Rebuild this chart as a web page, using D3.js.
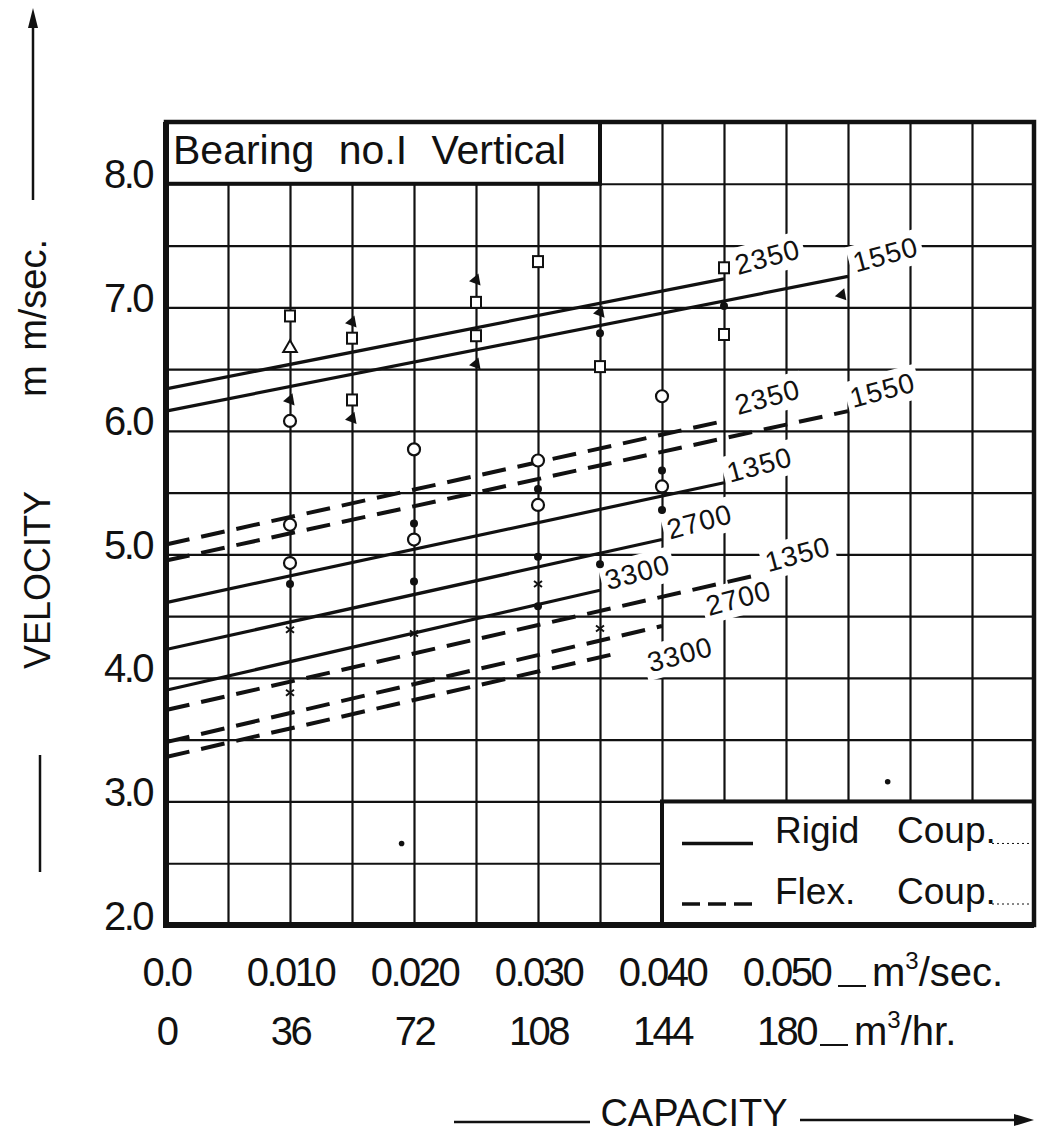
<!DOCTYPE html>
<html>
<head>
<meta charset="utf-8">
<script src="https://cdn.jsdelivr.net/npm/d3@7"></script>
<style>
  body { margin: 0; background: #fff; }
  svg { display: block; font-family: 'Liberation Sans', Arial, sans-serif; }
</style>
</head>
<body>
<div id="chart"></div>
<script>
// capacity (m3/sec) on x, vibration velocity (mm/sec) on y
const qTicks = [0, 0.010, 0.020, 0.030, 0.040, 0.050];
const qTickLabels = ["0.0", "0.010", "0.020", "0.030", "0.040", "0.050"];
const hourTickLabels = ["0", "36", "72", "108", "144", "180"];
const velTicks = [2, 3, 4, 5, 6, 7, 8];

// pump speeds (rpm) of the fitted lines
const speeds = ["2350", "1550", "1350", "2700", "3300"];
// rigid coupling: velocity at zero capacity, and end point of each line
const rigidV0 = [6.34, 6.16, 4.61, 4.23, 3.90];
const rigidEndQ = [0.045, 0.055, 0.045, 0.040, 0.035];
const rigidEndV = [7.23, 7.25, 5.58, 5.12, 4.71];
// flexible coupling
const flexV0 = [5.08, 4.95, 3.74, 3.48, 3.36];
const flexEndQ = [0.045, 0.055, 0.048, 0.040, 0.036];
const flexEndV = [6.08, 6.16, 4.84, 4.42, 4.19];

// measured points [capacity, velocity]
const squares = [[0.010, 6.93], [0.015, 6.75], [0.015, 6.25], [0.025, 7.04], [0.025, 6.77],
                 [0.030, 7.37], [0.035, 6.52], [0.045, 7.32], [0.045, 6.78]];
const openTriangles = [[0.010, 6.67]];
const arrows = [[0.010, 6.25], [0.015, 6.88], [0.015, 6.10], [0.025, 7.22], [0.025, 6.54],
                [0.035, 6.96], [0.0545, 7.10]];
const circles = [[0.010, 6.08], [0.010, 5.24], [0.010, 4.93], [0.020, 5.85], [0.020, 5.12],
                 [0.030, 5.76], [0.030, 5.40], [0.040, 6.28], [0.040, 5.55]];
const dots = [[0.010, 4.76], [0.020, 5.25], [0.020, 4.78], [0.030, 5.53], [0.030, 4.98],
              [0.030, 4.58], [0.035, 6.79], [0.035, 4.92], [0.040, 5.68], [0.040, 5.36],
              [0.045, 7.01]];
const crosses = [[0.010, 4.39], [0.010, 3.88], [0.020, 4.36], [0.030, 4.76], [0.035, 4.40]];
const specks = [[0.0582, 3.16], [0.019, 2.66]];

// label offsets from line ends (px)
const rigidLabelOff = [[14, -4], [8, -4], [6, 0], [8, 0], [8, 0]];
const flexLabelOff = [[14, -6], [5, -3], [7, -2], [47, -10], [38, 18]];

const W = 1037, H = 1145;
const L = 166, R = 1034, T = 122, B = 925;
const INK = "#111";

const svg = d3.select("#chart").append("svg").attr("width", W).attr("height", H);
svg.append("rect").attr("width", W).attr("height", H).attr("fill", "#fff");

const x = d3.scaleLinear().domain([0, 0.07]).range([L, R]);
const y = d3.scaleLinear().domain([2, 8.5]).range([B, T]);

// grid
const gx = svg.append("g").attr("transform", `translate(0,${B})`)
    .call(d3.axisBottom(x).ticks(14).tickSize(-(B - T)).tickFormat(""));
const gy = svg.append("g").attr("transform", `translate(${L},0)`)
    .call(d3.axisLeft(y).ticks(13).tickSize(-(R - L)).tickFormat(""));
[gx, gy].forEach(g => {
    g.select(".domain").remove();
    g.selectAll("line").attr("stroke", INK).attr("stroke-width", 2.2);
});

// title box and legend box sit on the grid
svg.append("rect").attr("x", L).attr("y", T).attr("width", x(0.035) - L).attr("height", y(8) - T)
    .attr("fill", "#fff").attr("stroke", INK).attr("stroke-width", 4);
svg.append("text").attr("x", L + 7).attr("y", y(8) - 20)
    .attr("font-size", 41).attr("word-spacing", 13).attr("fill", INK)
    .text("Bearing no.I Vertical");

const lg = svg.append("g");
lg.append("rect").attr("x", x(0.04)).attr("y", y(3)).attr("width", R - x(0.04)).attr("height", B - y(3))
    .attr("fill", "#fff").attr("stroke", INK).attr("stroke-width", 4);
const legRows = [{ name: "Rigid", dash: null, yy: y(3) + 42 }, { name: "Flex.", dash: "18,8", yy: B - 21 }];
legRows.forEach(r => {
    lg.append("line").attr("x1", x(0.04) + 20).attr("x2", x(0.04) + 91)
        .attr("y1", r.yy).attr("y2", r.yy).attr("stroke", INK).attr("stroke-width", 3.5)
        .attr("stroke-dasharray", r.dash);
    lg.append("text").attr("x", x(0.04) + 113).attr("y", r.yy).attr("font-size", 37).attr("fill", INK).text(r.name);
    lg.append("text").attr("x", x(0.04) + 235).attr("y", r.yy).attr("font-size", 37).attr("fill", INK).text("Coup.");
    lg.append("line").attr("x1", x(0.04) + 330).attr("x2", R - 2).attr("y1", r.yy).attr("y2", r.yy)
        .attr("stroke", INK).attr("stroke-width", 1).attr("stroke-dasharray", "2,3");
});

const bgG = svg.append("g");
const lineG = svg.append("g");
const markG = svg.append("g");
const labG = svg.append("g");

function speedLabel(text, px, py) {
    const tr = `translate(${px},${py}) rotate(-15)`;
    const t = labG.append("text").attr("transform", tr).attr("font-size", 28)
        .attr("letter-spacing", 1).attr("fill", INK).text(text);
    const bb = t.node().getBBox();
    bgG.append("rect").attr("transform", tr).attr("x", bb.x - 4).attr("y", bb.y - 2)
        .attr("width", bb.width + 8).attr("height", bb.height + 4).attr("fill", "#fff");
}

const line = d3.line().x(d => x(d[0])).y(d => y(d[1]));

speeds.forEach((s, i) => {
    lineG.append("path").attr("d", line([[0, rigidV0[i]], [rigidEndQ[i], rigidEndV[i]]]))
        .attr("fill", "none").attr("stroke", INK).attr("stroke-width", 3.2);
    speedLabel(s, x(rigidEndQ[i]) + rigidLabelOff[i][0], y(rigidEndV[i]) + rigidLabelOff[i][1]);

    lineG.append("path").attr("d", line([[0, flexV0[i]], [flexEndQ[i], flexEndV[i]]]))
        .attr("fill", "none").attr("stroke", INK).attr("stroke-width", 4)
        .attr("stroke-dasharray", "24,12");
    speedLabel(s, x(flexEndQ[i]) + flexLabelOff[i][0], y(flexEndV[i]) + flexLabelOff[i][1]);
});

// markers
markG.selectAll(".sq").data(squares).join("rect")
    .attr("x", d => x(d[0]) - 5).attr("y", d => y(d[1]) - 5.5).attr("width", 10).attr("height", 11)
    .attr("fill", "#fff").attr("stroke", INK).attr("stroke-width", 2);
markG.selectAll(".tri").data(openTriangles).join("path")
    .attr("d", d3.symbol(d3.symbolTriangle, 80))
    .attr("transform", d => `translate(${x(d[0])},${y(d[1])})`)
    .attr("fill", "#fff").attr("stroke", INK).attr("stroke-width", 2);
markG.selectAll(".arr").data(arrows).join("path")
    .attr("d", d3.symbol(d3.symbolTriangle, 65))
    .attr("transform", d => `translate(${x(d[0])},${y(d[1])}) rotate(20)`)
    .attr("fill", INK);
markG.selectAll(".cir").data(circles).join("circle")
    .attr("cx", d => x(d[0])).attr("cy", d => y(d[1])).attr("r", 6)
    .attr("fill", "#fff").attr("stroke", INK).attr("stroke-width", 2.2);
markG.selectAll(".dot").data(dots).join("circle")
    .attr("cx", d => x(d[0])).attr("cy", d => y(d[1])).attr("r", 4).attr("fill", INK);
markG.selectAll(".crs").data(crosses).join("path")
    .attr("d", "M-4,-3L4,3M-4,3L4,-3")
    .attr("transform", d => `translate(${x(d[0])},${y(d[1])})`)
    .attr("stroke", INK).attr("stroke-width", 2);
markG.selectAll(".spk").data(specks).join("circle")
    .attr("cx", d => x(d[0])).attr("cy", d => y(d[1])).attr("r", 2.8).attr("fill", INK);

// frame: left and bottom edges drawn heavier
svg.append("rect").attr("x", L).attr("y", T).attr("width", R - L).attr("height", B - T)
    .attr("fill", "none").attr("stroke", INK).attr("stroke-width", 4.5);
svg.append("path").attr("d", `M${L},${T}V${B}H${R}`)
    .attr("fill", "none").attr("stroke", INK).attr("stroke-width", 6);

// tick labels
const ya = svg.append("g").attr("transform", `translate(${L},0)`)
    .call(d3.axisLeft(y).tickValues(velTicks).tickFormat(d3.format(".1f")).tickSize(0).tickPadding(14));
const xa = svg.append("g").attr("transform", `translate(0,${B})`)
    .call(d3.axisBottom(x).tickValues(qTicks).tickFormat((d, i) => qTickLabels[i]).tickSize(0).tickPadding(33));
const xh = svg.append("g").attr("transform", `translate(0,${B})`)
    .call(d3.axisBottom(x).tickValues(qTicks).tickFormat((d, i) => hourTickLabels[i]).tickSize(0).tickPadding(92));
[ya, xa, xh].forEach(g => {
    g.select(".domain").remove();
    g.attr("font-size", 40).attr("font-family", null);
    g.selectAll("text").attr("fill", INK).attr("letter-spacing", -2.5);
});
ya.selectAll("text").attr("dy", "0.1em");

// units after the last tick
function unit(px, py, tail) {
    svg.append("line").attr("x1", px).attr("x2", px + 28).attr("y1", py).attr("y2", py)
        .attr("stroke", INK).attr("stroke-width", 2);
    const t = svg.append("text").attr("x", px + 34).attr("y", py).attr("font-size", 40).attr("fill", INK);
    t.append("tspan").text("m");
    t.append("tspan").attr("dy", -17).attr("font-size", 24).text("3");
    t.append("tspan").attr("dy", 17).text(tail);
}
unit(x(0.05) + 52, B + 61, "/sec.");
unit(x(0.05) + 34, B + 120, "/hr.");

// axis titles
svg.append("line").attr("x1", 33).attr("x2", 33).attr("y1", 200).attr("y2", 22)
    .attr("stroke", INK).attr("stroke-width", 2.5);
svg.append("path").attr("d", "M33,8L28,28L38,28Z").attr("fill", INK);
svg.append("text").attr("transform", "translate(46,318) rotate(-90)").attr("text-anchor", "middle")
    .attr("font-size", 38).attr("word-spacing", 4).attr("fill", INK).text("m m/sec.");
svg.append("text").attr("transform", "translate(50,580) rotate(-90)").attr("text-anchor", "middle")
    .attr("font-size", 36).attr("fill", INK).text("VELOCITY");
svg.append("line").attr("x1", 40).attr("x2", 40).attr("y1", 755).attr("y2", 872)
    .attr("stroke", INK).attr("stroke-width", 2.5);

svg.append("line").attr("x1", 454).attr("x2", 590).attr("y1", 1122).attr("y2", 1122)
    .attr("stroke", INK).attr("stroke-width", 2.5);
svg.append("text").attr("x", 694).attr("y", 1126).attr("text-anchor", "middle")
    .attr("font-size", 38).attr("fill", INK).text("CAPACITY");
svg.append("line").attr("x1", 800).attr("x2", 1016).attr("y1", 1120).attr("y2", 1120)
    .attr("stroke", INK).attr("stroke-width", 2.5);
svg.append("path").attr("d", "M1034,1120L1014,1114L1014,1126Z").attr("fill", INK);
</script>
</body>
</html>
